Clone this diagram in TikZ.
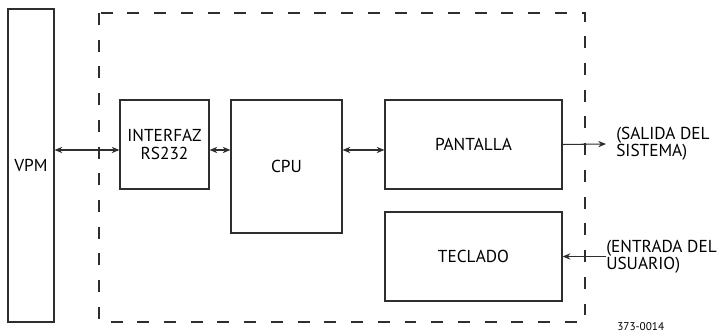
\documentclass[tikz,border=0pt]{standalone}
\usepackage{fontspec}
\setmainfont{PT Sans}
\usetikzlibrary{arrows.meta, positioning}

\definecolor{linegray}{HTML}{2E2E2E}

\begin{document}
\begin{tikzpicture}[x=0.025cm, y=-0.025cm,
    block/.style={draw=linegray, line width=0.85pt, rectangle, align=center, font=\fontsize{12.3}{12.3}\selectfont},
    link/.style={draw=linegray, line width=0.75pt, {Stealth[length=5.5pt,width=4.5pt]}-{Stealth[length=5.5pt,width=4.5pt]}},
    outlink/.style={draw=linegray, line width=0.75pt, -{Stealth[length=5.5pt,width=4.5pt]}},
    extlabel/.style={align=left, inner sep=0pt, font=\fontsize{12.3}{12}\selectfont}]
\useasboundingbox (0,0) rectangle (717,333);

% system boundary
\draw[linegray, line width=0.85pt, dash pattern=on 8.5pt off 10.5pt] (99,13) rectangle (585,322);

% blocks
\node[block, minimum width=1.15cm, minimum height=7.825cm] (vpm) at (31,165.5) {VPM};
\node[block, minimum width=2.225cm, minimum height=2.225cm] (rs) at (164.5,144.5) {INTERFAZ\\RS232};
\node[block, minimum width=2.775cm, minimum height=3.325cm] (cpu) at (286.5,166.5) {CPU};
\node[block, minimum width=4.425cm, minimum height=2.225cm] (pant) at (473.5,144.5) {PANTALLA};
\node[block, minimum width=4.425cm, minimum height=2.225cm] (tec) at (473.5,256.5) {TECLADO};

% outside labels
\node[extlabel, anchor=west] (salida) at (616,144) {(SALIDA DEL\\SISTEMA)};
\node[extlabel, anchor=west] (entrada) at (606,256.5) {(ENTRADA DEL\\USUARIO)};
\node[anchor=base west, inner sep=0pt, font=\fontsize{8}{8}\selectfont] (code) at (617,331) {373-0014};

% connections
\coordinate (bus) at (0,150);
\draw[link] (vpm.east |- bus) -- (rs.west |- bus);
\draw[link] (rs.east |- bus) -- (cpu.west |- bus);
\draw[link] (cpu.east |- bus) -- (pant.west |- bus);
\draw[outlink] (pant.east) -- ([xshift=-0.25cm]salida.west);
\draw[outlink] (entrada.west) -- (tec.east);

\end{tikzpicture}
\end{document}
